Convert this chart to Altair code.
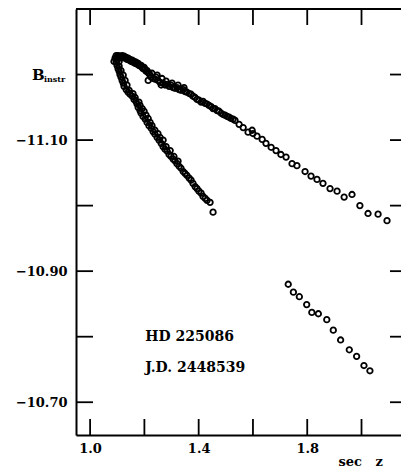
import altair as alt
import pandas as pd

# ---- data (sec z, B_instr) ----
upper = [
    (1.099, -11.226), (1.103, -11.229), (1.107, -11.225), (1.099, -11.222), (1.110, -11.228),
    (1.114, -11.226), (1.107, -11.220), (1.118, -11.229), (1.122, -11.226), (1.125, -11.228),
    (1.129, -11.225), (1.133, -11.226), (1.136, -11.223), (1.140, -11.225), (1.144, -11.222),
    (1.147, -11.223), (1.151, -11.220), (1.155, -11.222), (1.158, -11.219), (1.162, -11.220),
    (1.166, -11.217), (1.169, -11.219), (1.173, -11.216), (1.177, -11.217), (1.180, -11.214),
    (1.184, -11.213), (1.188, -11.214), (1.192, -11.211), (1.195, -11.209), (1.199, -11.211),
    (1.203, -11.208), (1.206, -11.205), (1.210, -11.206), (1.214, -11.203), (1.217, -11.202),
    (1.221, -11.199), (1.214, -11.191), (1.225, -11.196), (1.232, -11.194), (1.239, -11.193),
    (1.243, -11.196), (1.250, -11.191), (1.258, -11.188), (1.262, -11.184), (1.269, -11.187),
    (1.276, -11.184), (1.284, -11.185), (1.291, -11.182), (1.298, -11.184), (1.306, -11.180),
    (1.313, -11.179), (1.320, -11.180), (1.328, -11.177), (1.335, -11.176), (1.343, -11.177),
    (1.350, -11.174), (1.357, -11.173), (1.365, -11.171), (1.372, -11.170), (1.379, -11.167),
    (1.387, -11.165), (1.394, -11.162), (1.401, -11.161), (1.409, -11.158), (1.416, -11.159),
    (1.424, -11.156), (1.431, -11.155), (1.438, -11.153), (1.446, -11.151), (1.453, -11.148),
    (1.460, -11.148), (1.468, -11.145), (1.475, -11.144), (1.483, -11.141), (1.490, -11.139),
    (1.497, -11.138), (1.505, -11.136), (1.512, -11.135), (1.519, -11.133), (1.527, -11.132),
    (1.534, -11.130), (1.549, -11.124), (1.564, -11.119), (1.582, -11.112), (1.597, -11.115),
    (1.600, -11.110), (1.615, -11.106), (1.634, -11.101), (1.648, -11.095), (1.667, -11.089),
    (1.685, -11.084), (1.703, -11.078), (1.722, -11.074), (1.744, -11.064), (1.762, -11.061),
    (1.792, -11.052), (1.814, -11.045), (1.836, -11.040), (1.858, -11.034), (1.884, -11.026),
    (1.910, -11.022), (1.936, -11.013), (1.965, -11.017), (1.994, -11.000), (2.024, -10.988),
    (2.061, -10.987), (2.094, -10.977),
    (1.228, -11.202), (1.247, -11.199), (1.265, -11.194), (1.280, -11.190), (1.302, -11.187),
    (1.324, -11.184), (1.346, -11.180), (1.092, -11.225), (1.088, -11.220), (1.096, -11.229),
]

lower = [
    (1.096, -11.219), (1.099, -11.214), (1.103, -11.209), (1.107, -11.205), (1.110, -11.200),
    (1.114, -11.196), (1.118, -11.191), (1.122, -11.187), (1.125, -11.182), (1.133, -11.177),
    (1.140, -11.173), (1.147, -11.170), (1.155, -11.167), (1.162, -11.162), (1.169, -11.159),
    (1.173, -11.155), (1.177, -11.150), (1.184, -11.145), (1.188, -11.141), (1.195, -11.136),
    (1.203, -11.132), (1.210, -11.127), (1.217, -11.122), (1.225, -11.118), (1.232, -11.113),
    (1.239, -11.109), (1.247, -11.104), (1.254, -11.100), (1.262, -11.095), (1.269, -11.090),
    (1.276, -11.086), (1.284, -11.083), (1.291, -11.078), (1.298, -11.075), (1.306, -11.071),
    (1.313, -11.068), (1.320, -11.064), (1.328, -11.060), (1.335, -11.057), (1.343, -11.052),
    (1.350, -11.049), (1.357, -11.046), (1.365, -11.042), (1.372, -11.039), (1.379, -11.034),
    (1.387, -11.029), (1.394, -11.026), (1.401, -11.022), (1.409, -11.019), (1.416, -11.014),
    (1.424, -11.011), (1.431, -11.008), (1.442, -11.005), (1.453, -10.990),
    (1.107, -11.213), (1.114, -11.206), (1.122, -11.199), (1.129, -11.191), (1.136, -11.184),
    (1.144, -11.176), (1.158, -11.171), (1.166, -11.165), (1.180, -11.158), (1.184, -11.153),
    (1.192, -11.148), (1.199, -11.144), (1.206, -11.138), (1.214, -11.133), (1.221, -11.127),
    (1.228, -11.122), (1.239, -11.115), (1.250, -11.110), (1.258, -11.104), (1.269, -11.100),
    (1.280, -11.090), (1.295, -11.084), (1.309, -11.075), (1.324, -11.068),
]

group = [
    (1.730, -10.880), (1.749, -10.868), (1.771, -10.861), (1.798, -10.849), (1.817, -10.837),
    (1.841, -10.835), (1.872, -10.826), (1.896, -10.810), (1.923, -10.795), (1.955, -10.780),
    (1.982, -10.770), (2.009, -10.756), (2.031, -10.748),
]

x_ticks = [1.0, 1.2, 1.4, 1.6, 1.8, 2.0]
x_labels = [1.0, 1.4, 1.8]
y_ticks = [-11.2, -11.1, -11.0, -10.9, -10.8, -10.7]
y_labels = [-11.1, -10.9, -10.7]

notes_text = ["HD 225086", "J.D. 2448539"]
notes_x = [1.203, 1.203]
notes_y = [-10.800, -10.752]

x_title = "sec\u00a0\u00a0\u00a0z"
y_title_main = "B"
y_title_sub = "instr"
y_title_at = -11.2

# ---- chart ----
W, H = 325, 426
FONT = "DejaVu Serif"

xs = alt.Scale(domain=[0.948, 2.1455], nice=False, zero=False)
ys = alt.Scale(domain=[-11.30, -10.65], nice=False, zero=False, reverse=True)

x_axis = alt.Axis(
    values=x_labels, format=".1f", domain=True, domainWidth=2, domainColor="black",
    ticks=False, grid=False, labelFont=FONT, labelFontSize=13, labelFontWeight="bold",
    labelColor="black", labelPadding=7, labelFlush=False,
    title=x_title, titleFont=FONT, titleFontSize=13, titleFontWeight="bold",
    titleColor="black", titleAlign="left", titleBaseline="alphabetic",
    titleX=262, titleY=30)
y_axis = alt.Axis(
    values=y_labels, labelExpr="replace(format(datum.value, '.2f'), '-', '\u2212')",
    domain=True, domainWidth=2, domainColor="black", ticks=False, grid=False,
    labelFont=FONT, labelFontSize=13, labelFontWeight="bold", labelColor="black",
    labelPadding=9, title=None)

pts = pd.DataFrame(upper + lower + group, columns=["x", "y"])

points = alt.Chart(pts).mark_point(
    shape="circle", filled=False, size=30, strokeWidth=1.8, color="black", opacity=1
).encode(
    x=alt.X("x:Q", scale=xs, axis=x_axis),
    y=alt.Y("y:Q", scale=ys, axis=y_axis),
)

xt = pd.DataFrame({"v": x_ticks})
yt = pd.DataFrame({"v": y_ticks})
rule_style = dict(color="black", strokeWidth=1.8)

bottom_ticks = alt.Chart(xt).mark_rule(**rule_style).encode(
    x=alt.X("v:Q", scale=xs, axis=x_axis), y=alt.value(H - 16), y2=alt.value(H))
top_ticks = alt.Chart(xt).mark_rule(**rule_style).encode(
    x=alt.X("v:Q", scale=xs, axis=x_axis), y=alt.value(0), y2=alt.value(16))
left_ticks = alt.Chart(yt).mark_rule(**rule_style).encode(
    y=alt.Y("v:Q", scale=ys, axis=y_axis), x=alt.value(0), x2=alt.value(17))
right_ticks = alt.Chart(yt).mark_rule(**rule_style).encode(
    y=alt.Y("v:Q", scale=ys, axis=y_axis), x=alt.value(W - 11), x2=alt.value(W))
top_line = alt.Chart(pd.DataFrame({"a": [0]})).mark_rule(color="black", strokeWidth=2).encode(
    x=alt.value(0), x2=alt.value(W), y=alt.value(0))

notes = alt.Chart(pd.DataFrame({"x": notes_x, "y": notes_y, "t": notes_text})).mark_text(
    align="left", baseline="middle", font=FONT, fontSize=14, fontWeight="bold", color="black"
).encode(x=alt.X("x:Q", scale=xs, axis=x_axis), y=alt.Y("y:Q", scale=ys, axis=y_axis), text="t:N")

ylab_main = alt.Chart(pd.DataFrame({"y": [y_title_at], "t": [y_title_main]})).mark_text(
    align="left", baseline="alphabetic", dy=5, font=FONT, fontSize=15, fontWeight="bold", color="black"
).encode(x=alt.value(-44), y=alt.Y("y:Q", scale=ys, axis=y_axis), text="t:N")
ylab_sub = alt.Chart(pd.DataFrame({"y": [y_title_at], "t": [y_title_sub]})).mark_text(
    align="left", baseline="alphabetic", dy=7, font=FONT, fontSize=8, fontWeight="bold", color="black"
).encode(x=alt.value(-32), y=alt.Y("y:Q", scale=ys, axis=y_axis), text="t:N")

chart = alt.layer(
    points, bottom_ticks, top_ticks, left_ticks, right_ticks, top_line, notes, ylab_main, ylab_sub
).properties(
    width=W, height=H,
    autosize=alt.AutoSizeParams(type="none"),
    padding={"left": 68, "top": 1, "right": 0, "bottom": 33},
    background="white",
).configure_view(stroke=None)

chart.save("out.html", embed_options={"renderer": "svg", "actions": False})
